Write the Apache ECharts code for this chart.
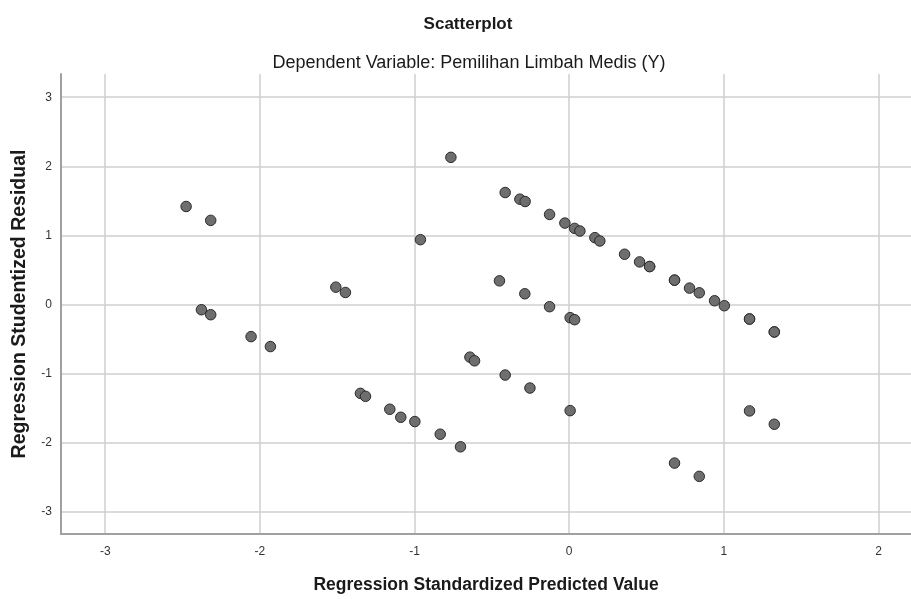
<!DOCTYPE html>
<html>
<head>
<meta charset="utf-8">
<script src="https://cdn.jsdelivr.net/npm/echarts@6/dist/echarts.min.js"></script>
<style>
html,body{margin:0;padding:0;background:#fff;}
#chart{width:911px;height:599px;}
</style>
</head>
<body>
<div id="chart"></div>
<script>
var titleText = 'Scatterplot';
var subtitleText = 'Dependent Variable: Pemilihan Limbah Medis (Y)';
var xAxisName = 'Regression Standardized Predicted Value';
var yAxisName = 'Regression Studentized Residual';

var xTicks = [-3, -2, -1, 0, 1, 2];
var yTicks = [-3, -2, -1, 0, 1, 2, 3];

var predicted = [
  -2.477, -2.318, -2.378, -2.318, -2.057, -1.932, -1.509, -1.447, -1.350, -1.317,
  -1.160, -1.089, -0.998, -0.962, -0.834, -0.765, -0.703, -0.642, -0.612, -0.451,
  -0.414, -0.414, -0.319, -0.285, -0.287, -0.254, -0.127, -0.127, -0.028, 0.006,
  0.006, 0.035, 0.035, 0.069, 0.166, 0.198, 0.358, 0.455, 0.520, 0.520,
  0.681, 0.681, 0.681, 0.778, 0.841, 0.841, 0.940, 1.003, 1.166, 1.166,
  1.166, 1.326, 1.326, 1.326
];
var residual = [
  1.419, 1.218, -0.075, -0.147, -0.464, -0.608, 0.252, 0.175, -1.285, -1.328,
  -1.515, -1.631, -1.693, 0.939, -1.876, 2.130, -2.058, -0.761, -0.814, 0.343,
  1.621, -1.020, 1.525, 1.491, 0.156, -1.208, 1.304, -0.031, 1.179, -0.190,
  -1.535, 1.102, -0.219, 1.064, 0.968, 0.920, 0.728, 0.617, 0.550, 0.550,
  0.353, 0.353, -2.294, 0.238, 0.170, -2.486, 0.055, -0.017, -0.209, -0.209,
  -1.539, -0.396, -0.396, -1.732
];

var points = predicted.map(function (x, i) { return [x, residual[i]]; });

var FONT = '"Liberation Sans", Arial, sans-serif';
var chart = echarts.init(document.getElementById('chart'), null, {renderer: 'canvas'});

chart.setOption({
  backgroundColor: '#ffffff',
  animation: false,
  title: [
    {text: titleText, left: 463, top: 11, textAlign: 'center',
     textStyle: {fontFamily: FONT, fontSize: 17, fontWeight: 'bold', color: '#1a1a1a'}},
    {text: subtitleText, left: 464, top: 49, textAlign: 'center',
     textStyle: {fontFamily: FONT, fontSize: 18, fontWeight: 'normal', color: '#1a1a1a'}}
  ],
  grid: {left: 61, right: 0, top: 74, bottom: 63, containLabel: false},
  xAxis: {
    type: 'value',
    min: -3.286, max: 2.21,
    name: xAxisName,
    nameLocation: 'middle',
    nameGap: 42,
    nameTextStyle: {fontFamily: FONT, fontSize: 17.5, fontWeight: 'bold', color: '#1a1a1a'},
    axisLine: {show: true, onZero: false, lineStyle: {color: '#a0a0a0', width: 2}},
    axisTick: {show: false, customValues: xTicks},
    axisLabel: {customValues: xTicks, fontFamily: FONT, fontSize: 12, color: '#333', margin: 12,
      formatter: function (v) { return String(v); }},
    splitLine: {show: true, lineStyle: {color: '#cfcfcf', width: 1.5}}
  },
  yAxis: {
    type: 'value',
    min: -3.32, max: 3.336,
    name: yAxisName,
    nameLocation: 'middle',
    nameGap: 31,
    nameRotate: 90,
    nameTextStyle: {fontFamily: FONT, fontSize: 19.5, fontWeight: 'bold', color: '#1a1a1a'},
    axisLine: {show: true, onZero: false, lineStyle: {color: '#a0a0a0', width: 2}},
    axisTick: {show: false, customValues: yTicks},
    axisLabel: {customValues: yTicks, fontFamily: FONT, fontSize: 12, color: '#333', margin: 9,
      formatter: function (v) { return String(v); }},
    splitLine: {show: true, lineStyle: {color: '#cfcfcf', width: 1.5}}
  },
  series: [{
    type: 'scatter',
    data: points,
    symbol: 'circle',
    symbolSize: 10.5,
    itemStyle: {color: '#6e6e6e', borderColor: '#2a2a2a', borderWidth: 1, opacity: 1}
  }]
});
</script>
</body>
</html>
